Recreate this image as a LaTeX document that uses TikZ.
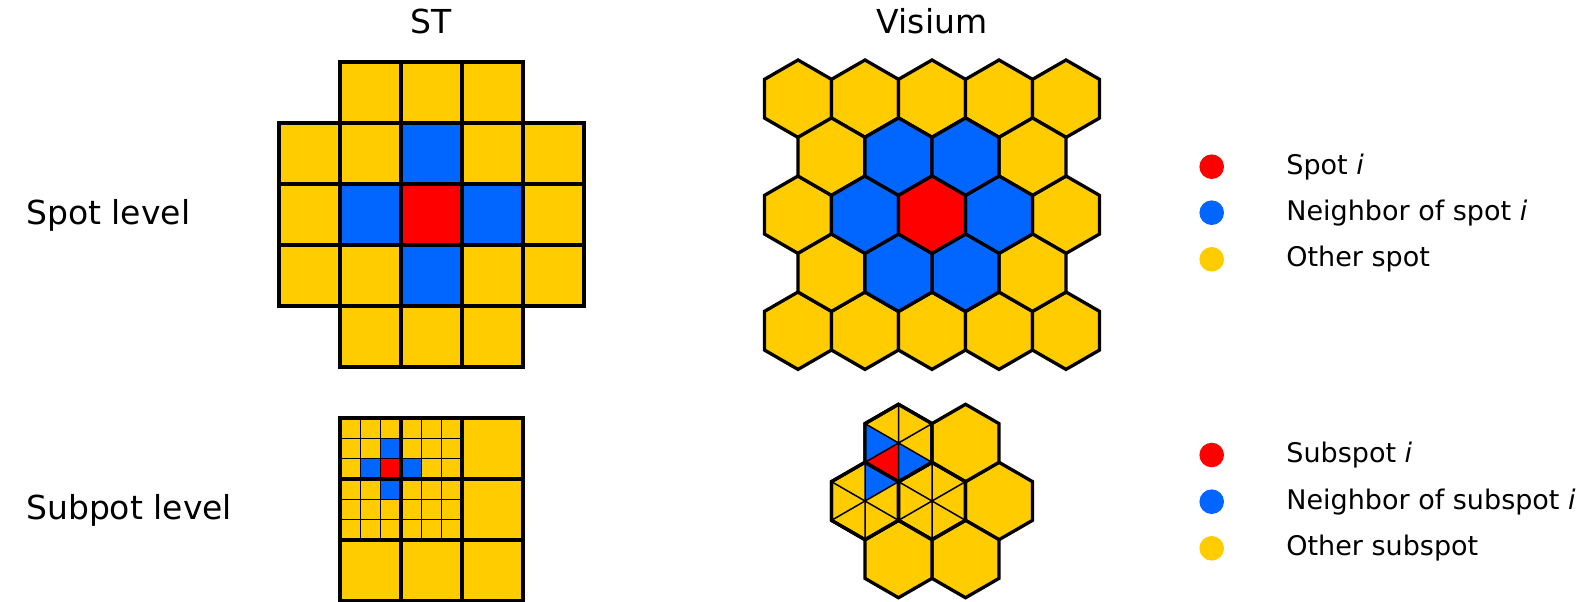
\documentclass[tikz,border=0pt]{standalone}
\usepackage{fontspec}
\setmainfont{DejaVu Sans}
\usetikzlibrary{calc,positioning}
\definecolor{spotred}{HTML}{FF0000}
\definecolor{spotblue}{HTML}{0066FF}
\definecolor{spotyellow}{HTML}{FFCC00}
\newcommand{\hexr}{38.7}

\begin{document}
\begin{tikzpicture}[x=1pt,y=-1pt,
    cell/.style={draw=black,line width=3.3pt},
    fine/.style={draw=black,line width=1.5pt},
    dot/.style={circle,fill=#1,minimum size=24.6pt,inner sep=0pt},
    head/.style={font=\fontsize{33}{40}\selectfont,inner sep=0pt},
    legtext/.style={font=\fontsize{27}{32}\selectfont,inner sep=0pt,anchor=west},
    pics/hexcell/.style={code={\filldraw[cell,fill=#1] (30:\hexr) -- (90:\hexr) -- (150:\hexr) -- (210:\hexr) -- (270:\hexr) -- (330:\hexr) -- cycle;}},
    pics/hexrim/.style={code={\draw[cell] (30:\hexr) -- (90:\hexr) -- (150:\hexr) -- (210:\hexr) -- (270:\hexr) -- (330:\hexr) -- cycle;}},
    pics/hexspokes/.style={code={\draw[fine] (30:\hexr) -- (210:\hexr) (90:\hexr) -- (270:\hexr) (150:\hexr) -- (330:\hexr);}}]
  \useasboundingbox (0,0) rectangle (1596,602);

  % titles
  \node[head,anchor=base] (hdst) at (431.5,33.3) {ST};
  \node[head,anchor=base] (hdvis) at (932,33.3) {Visium};
  \node[head,anchor=base west] (lblspot) at (26,224) {Spot level};
  \node[head,anchor=base west] (lblsub) at (26,519.3) {Subpot level};

  % ST, spot level
  \foreach \c in {0,...,4} \foreach \r in {1,2,3}
    \filldraw[cell,fill=spotyellow] (279+61*\c,62+61*\r) rectangle ++(61,61);
  \foreach \c in {1,2,3} \foreach \r in {0,4}
    \filldraw[cell,fill=spotyellow] (279+61*\c,62+61*\r) rectangle ++(61,61);
  \foreach \c/\r in {2/1,1/2,3/2,2/3}
    \filldraw[cell,fill=spotblue] (279+61*\c,62+61*\r) rectangle ++(61,61);
  \filldraw[cell,fill=spotred] (401,184) rectangle ++(61,61);

  % ST, subspot level
  \foreach \c in {0,1,2} \foreach \r in {0,1,2}
    \filldraw[cell,fill=spotyellow] (340+61*\c,418+61*\r) rectangle ++(61,61);
  \foreach \i in {1,...,5} {
    \draw[fine] (340+61/3*\i,418) -- ++(0,122);
    \draw[fine] (340,418+61/3*\i) -- ++(122,0);
  }
  \foreach \c/\r/\col in {2/1/spotblue,1/2/spotblue,3/2/spotblue,2/3/spotblue,2/2/spotred}
    \filldraw[fine,fill=\col] (340+61/3*\c,418+61/3*\r) rectangle ++(61/3,61/3);
  \foreach \c in {0,1,2} \foreach \r in {0,1,2}
    \draw[cell] (340+61*\c,418+61*\r) rectangle ++(61,61);

  % Visium, spot level
  \foreach \r in {0,2,4} \foreach \c in {0,...,4}
    \pic at (798+67*\c,98.7+58*\r) {hexcell=spotyellow};
  \foreach \r in {1,3} \foreach \c in {0,...,3}
    \pic at (831.5+67*\c,98.7+58*\r) {hexcell=spotyellow};
  \coordinate (vspot) at (932,214.7);
  \foreach \a in {0,60,...,300}
    \pic at ($(vspot)+(\a:67)$) {hexcell=spotblue};
  \pic at (vspot) {hexcell=spotred};

  % Visium, subspot level
  \coordinate (vsub) at (932,501);
  \coordinate (vtop) at ($(vsub)+(240:67)$);
  \coordinate (vleft) at ($(vsub)+(180:67)$);
  \pic at (vsub) {hexcell=spotyellow};
  \foreach \a in {0,60,...,300}
    \pic at ($(vsub)+(\a:67)$) {hexcell=spotyellow};
  \begin{scope}[shift={(vtop)}]
    \fill[spotred] (0,0) -- (150:\hexr) -- (90:\hexr) -- cycle;
    \fill[spotblue] (0,0) -- (150:\hexr) -- (210:\hexr) -- cycle
                    (0,0) -- (90:\hexr) -- (30:\hexr) -- cycle;
  \end{scope}
  \begin{scope}[shift={(vleft)}]
    \fill[spotblue] (0,0) -- (270:\hexr) -- (330:\hexr) -- cycle;
  \end{scope}
  \foreach \p in {vtop,vleft,vsub} {
    \pic at (\p) {hexspokes};
    \pic at (\p) {hexrim};
  }

  % legend
  \node[dot=spotred] (dotspot) at (1211.7,166.7) {};
  \node[dot=spotblue,on grid,below=46pt of dotspot] (dotnbr) {};
  \node[dot=spotyellow,on grid,below=46.6pt of dotnbr] (dotother) {};
  \node[legtext,right=62pt of dotspot] (txtspot) {Spot \textit{i}};
  \node[legtext,right=62pt of dotnbr] (txtnbr) {Neighbor of spot \textit{i}};
  \node[legtext,right=62pt of dotother] (txtother) {Other spot};

  \node[dot=spotred] (dotsub) at (1211.7,455) {};
  \node[dot=spotblue,on grid,below=46.7pt of dotsub] (dotsubnbr) {};
  \node[dot=spotyellow,on grid,below=46.6pt of dotsubnbr] (dotsubother) {};
  \node[legtext,right=62pt of dotsub] (txtsub) {Subspot \textit{i}};
  \node[legtext,right=62pt of dotsubnbr] (txtsubnbr) {Neighbor of subspot \textit{i}};
  \node[legtext,right=62pt of dotsubother] (txtsubother) {Other subspot};
\end{tikzpicture}
\end{document}
